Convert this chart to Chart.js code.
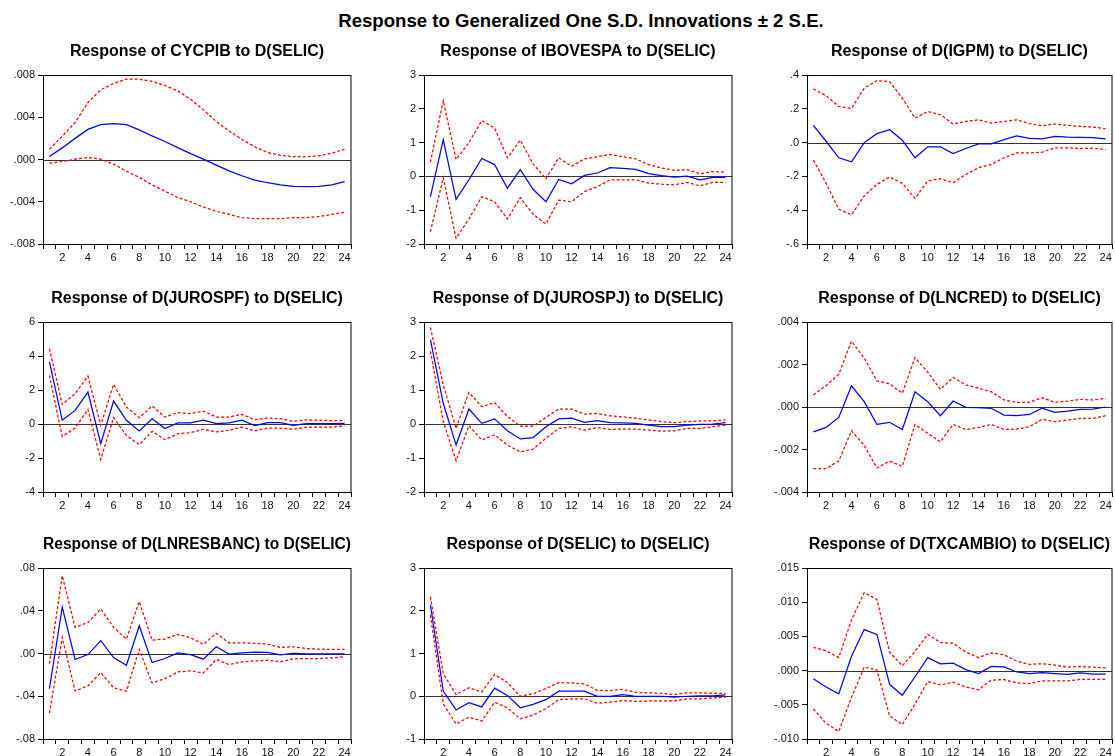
<!DOCTYPE html>
<html>
<head>
<meta charset="utf-8">
<script src="https://cdn.jsdelivr.net/npm/chart.js@4.4.1/dist/chart.umd.min.js"></script>
<style>
  html, body { margin:0; padding:0; background:#fff; overflow:hidden; }
  #wrap { position:relative; width:1115px; height:756px; background:#fff; }
  #maintitle { position:absolute; top:10px; left:581px; transform:translateX(-50%); white-space:nowrap;
    font-family:"Liberation Sans", Arial, sans-serif; font-weight:bold; font-size:18.6px; line-height:22px; color:#000; }
  canvas { position:absolute; }
</style>
</head>
<body>
<div id="wrap">
  <div id="maintitle">Response to Generalized One S.D. Innovations ± 2 S.E.</div>
</div>
<script>
// ---------- categories ----------
const steps = ['1','2','3','4','5','6','7','8','9','10','11','12','13','14','15','16','17','18','19','20','21','22','23','24'];

// ---------- CYCPIB ----------
const cycpibResp = [0.00028,0.0011,0.0020,0.00285,0.0033,0.0034,0.0033,0.0028,0.00223,0.0017,0.00113,0.00056,0.00003,-0.00053,-0.00107,-0.00154,-0.00195,-0.0022,-0.0024,-0.00254,-0.00257,-0.00254,-0.0024,-0.0021];
const cycpibHi   = [0.00097,0.0022,0.0035,0.0054,0.0066,0.0072,0.0076,0.0076,0.0074,0.0070,0.0065,0.0057,0.0047,0.0036,0.0027,0.0019,0.0012,0.00066,0.0004,0.00028,0.00025,0.00035,0.0006,0.00097];
const cycpibLo   = [-0.00035,-0.0002,0.00003,0.0002,0.00003,-0.00044,-0.0011,-0.0017,-0.0024,-0.0030,-0.0036,-0.0040,-0.0045,-0.0049,-0.0052,-0.0055,-0.0056,-0.0056,-0.0056,-0.0055,-0.0055,-0.0054,-0.0052,-0.0050];
const cycpibTicks = [-0.008,-0.004,0,0.004,0.008];

// ---------- IBOVESPA ----------
const ibovResp = [-0.6,1.09,-0.68,-0.1,0.53,0.35,-0.35,0.2,-0.38,-0.75,-0.09,-0.22,0.03,0.1,0.26,0.24,0.21,0.08,0.02,-0.02,0.01,-0.1,-0.03,-0.03];
const ibovHi   = [0.42,2.24,0.5,1.0,1.65,1.43,0.55,1.07,0.37,-0.07,0.55,0.3,0.52,0.58,0.65,0.58,0.52,0.35,0.25,0.18,0.2,0.08,0.14,0.13];
const ibovLo   = [-1.64,-0.04,-1.83,-1.26,-0.6,-0.75,-1.26,-0.63,-1.12,-1.41,-0.7,-0.75,-0.45,-0.31,-0.1,-0.1,-0.1,-0.2,-0.23,-0.25,-0.18,-0.28,-0.18,-0.18];
const ibovTicks = [-2,-1,0,1,2,3];

// ---------- D(IGPM) ----------
const igpmResp = [0.102,0.008,-0.09,-0.114,0,0.053,0.076,0.014,-0.09,-0.025,-0.025,-0.065,-0.035,-0.008,-0.008,0.018,0.04,0.025,0.022,0.037,0.033,0.031,0.03,0.022];
const igpmHi   = [0.318,0.277,0.214,0.202,0.322,0.367,0.361,0.263,0.145,0.184,0.165,0.11,0.125,0.135,0.116,0.125,0.135,0.112,0.1,0.11,0.102,0.096,0.092,0.082];
const igpmLo   = [-0.104,-0.24,-0.394,-0.427,-0.316,-0.247,-0.204,-0.241,-0.33,-0.227,-0.214,-0.237,-0.188,-0.149,-0.129,-0.09,-0.061,-0.061,-0.057,-0.031,-0.031,-0.035,-0.033,-0.041];
const igpmTicks = [-0.6,-0.4,-0.2,0,0.2,0.4];

// ---------- D(JUROSPF) ----------
const jpfResp = [3.65,0.22,0.8,1.88,-1.16,1.35,0.22,-0.41,0.31,-0.27,0.06,0.06,0.22,0.02,0.06,0.22,-0.1,0.08,0.08,-0.08,0.02,0.02,0.02,0.04];
const jpfHi   = [4.43,1.16,1.78,2.82,-0.08,2.33,1.0,0.37,1.06,0.41,0.67,0.61,0.76,0.41,0.41,0.57,0.25,0.35,0.31,0.16,0.24,0.22,0.2,0.2];
const jpfLo   = [2.86,-0.73,-0.24,0.86,-2.08,0.37,-0.67,-1.22,-0.43,-0.92,-0.57,-0.51,-0.31,-0.47,-0.37,-0.18,-0.41,-0.24,-0.24,-0.31,-0.2,-0.18,-0.18,-0.12];
const jpfTicks = [-4,-2,0,2,4,6];

// ---------- D(JUROSPJ) ----------
const jpjResp = [2.48,0.61,-0.62,0.44,0.02,0.15,-0.2,-0.44,-0.4,-0.08,0.15,0.17,0.05,0.1,0.04,0.03,0.02,-0.03,-0.08,-0.08,-0.03,-0.01,0,0.04];
const jpjHi   = [2.84,1.15,-0.13,0.93,0.51,0.63,0.22,-0.06,-0.06,0.19,0.44,0.44,0.29,0.31,0.24,0.21,0.17,0.12,0.07,0.04,0.07,0.09,0.09,0.12];
const jpjLo   = [2.14,0.07,-1.08,-0.05,-0.47,-0.32,-0.62,-0.82,-0.74,-0.42,-0.13,-0.08,-0.18,-0.11,-0.16,-0.15,-0.15,-0.18,-0.21,-0.2,-0.13,-0.13,-0.08,-0.03];
const jpjTicks = [-2,-1,0,1,2,3];

// ---------- D(LNCRED) ----------
const lncredResp = [-0.00117,-0.00096,-0.00049,0.001,0.00025,-0.00082,-0.00072,-0.00106,0.00072,0.00025,-0.00041,0.00028,-0.00002,-0.00003,-0.00006,-0.00038,-0.00041,-0.00035,-0.00006,-0.00025,-0.00019,-0.00011,-0.0001,0];
const lncredHi   = [0.00057,0.001,0.00154,0.0031,0.0023,0.00123,0.00109,0.00065,0.00233,0.00164,0.00083,0.00139,0.00104,0.00088,0.00072,0.00033,0.00022,0.00022,0.00044,0.00022,0.00028,0.00036,0.00033,0.00041];
const lncredLo   = [-0.0029,-0.0029,-0.00254,-0.00112,-0.0018,-0.00287,-0.00255,-0.00279,-0.00082,-0.00124,-0.00164,-0.00082,-0.00106,-0.00096,-0.00082,-0.00106,-0.00104,-0.00093,-0.00058,-0.00069,-0.00061,-0.00054,-0.00054,-0.00041];
const lncredTicks = [-0.004,-0.002,0,0.002,0.004];

// ---------- D(LNRESBANC) ----------
const resbResp = [-0.033,0.0433,-0.0056,-0.001,0.012,-0.0038,-0.011,0.026,-0.0085,-0.0047,0.0006,-0.001,-0.0053,0.0063,-0.0006,0.0006,0.0013,0.001,-0.0013,0,-0.0003,-0.0003,-0.0003,-0.0003];
const resbHi   = [-0.0094,0.0728,0.0245,0.029,0.0417,0.0245,0.0135,0.0486,0.0125,0.0135,0.0179,0.0147,0.0085,0.0188,0.01,0.01,0.0094,0.0088,0.0056,0.0063,0.0047,0.0041,0.0038,0.0038];
const resbLo   = [-0.0558,0.015,-0.0351,-0.0304,-0.0179,-0.032,-0.0354,0.0038,-0.0276,-0.0235,-0.0173,-0.0163,-0.0182,-0.0056,-0.0104,-0.0078,-0.0069,-0.0063,-0.0078,-0.005,-0.0047,-0.0047,-0.0041,-0.0031];
const resbTicks = [-0.08,-0.04,0,0.04,0.08];

// ---------- D(SELIC) ----------
const selicResp = [2.14,0.12,-0.32,-0.15,-0.25,0.19,0.02,-0.27,-0.19,-0.08,0.12,0.12,0.12,0,0,0.04,0,0,0,-0.02,0,0.01,0.01,0.03];
const selicHi   = [2.33,0.53,0.04,0.2,0.1,0.51,0.32,0,0.06,0.18,0.32,0.31,0.29,0.14,0.13,0.16,0.09,0.08,0.07,0.04,0.08,0.08,0.07,0.07];
const selicLo   = [1.9,-0.18,-0.65,-0.49,-0.58,-0.14,-0.27,-0.53,-0.44,-0.29,-0.08,-0.06,-0.06,-0.16,-0.14,-0.1,-0.12,-0.11,-0.11,-0.11,-0.06,-0.06,-0.04,-0.02];
const selicTicks = [-1,0,1,2,3];

// ---------- D(TXCAMBIO) ----------
const txResp = [-0.0012,-0.0024,-0.0034,0.0021,0.006,0.0053,-0.002,-0.0036,-0.0009,0.0019,0.001,0.0011,0.00015,-0.00044,0.0006,0.00054,-0.0002,-0.00044,-0.0003,-0.00044,-0.00054,-0.00034,-0.0005,-0.0005];
const txHi   = [0.0034,0.0029,0.0019,0.0074,0.0114,0.0104,0.0027,0.0007,0.0028,0.0053,0.0041,0.004,0.0027,0.0019,0.0026,0.0023,0.0014,0.0009,0.001,0.0008,0.0005,0.0006,0.0005,0.0004];
const txLo   = [-0.0056,-0.0077,-0.0089,-0.0039,0.0005,0.0001,-0.0066,-0.0079,-0.0049,-0.0016,-0.0021,-0.0017,-0.0024,-0.0028,-0.0014,-0.0013,-0.0018,-0.0019,-0.0015,-0.0015,-0.0015,-0.0013,-0.0013,-0.0013];
const txTicks = [-0.010,-0.005,0,0.005,0.010,0.015];

// ---------- panel list ----------
const panels = [
  {title:'Response of CYCPIB to D(SELIC)',       resp:cycpibResp, hi:cycpibHi, lo:cycpibLo, ticks:cycpibTicks, dec:3},
  {title:'Response of IBOVESPA to D(SELIC)',     resp:ibovResp,   hi:ibovHi,   lo:ibovLo,   ticks:ibovTicks,   dec:0},
  {title:'Response of D(IGPM) to D(SELIC)',      resp:igpmResp,   hi:igpmHi,   lo:igpmLo,   ticks:igpmTicks,   dec:1},
  {title:'Response of D(JUROSPF) to D(SELIC)',   resp:jpfResp,    hi:jpfHi,    lo:jpfLo,    ticks:jpfTicks,    dec:0},
  {title:'Response of D(JUROSPJ) to D(SELIC)',   resp:jpjResp,    hi:jpjHi,    lo:jpjLo,    ticks:jpjTicks,    dec:0},
  {title:'Response of D(LNCRED) to D(SELIC)',    resp:lncredResp, hi:lncredHi, lo:lncredLo, ticks:lncredTicks, dec:3},
  {title:'Response of D(LNRESBANC) to D(SELIC)', resp:resbResp,   hi:resbHi,   lo:resbLo,   ticks:resbTicks,   dec:2},
  {title:'Response of D(SELIC) to D(SELIC)',     resp:selicResp,  hi:selicHi,  lo:selicLo,  ticks:selicTicks,  dec:0},
  {title:'Response of D(TXCAMBIO) to D(SELIC)',  resp:txResp,     hi:txHi,     lo:txLo,     ticks:txTicks,     dec:3}
];

// ---------- layout geometry ----------
const COLS = [{cl:0, pl:43, pr:351}, {cl:374, pl:424, pr:732}, {cl:757, pl:807, pr:1112}];
const ROWS = [{pt:75, pb:244}, {pt:322, pb:492}, {pt:568, pb:739}];
const TITLE_H = 35, XAX_H = 22, PAD_R = 3;
const FONT = '"Liberation Sans", Arial, sans-serif';

function fmt(v, dec) {
  if (Math.abs(v) < 1e-12) v = 0;
  if (dec === 0) return String(Math.round(v));
  let s = Math.abs(v).toFixed(dec).replace(/^0/, '');
  return (v < 0 ? '-' : '') + s;
}

const framePlugin = {
  id: 'frame',
  beforeDatasetsDraw(chart) {
    const {ctx, chartArea:a, scales:{y}} = chart;
    const yz = Math.round(y.getPixelForValue(0)) + 0.5;
    ctx.save();
    ctx.strokeStyle = '#333';
    ctx.lineWidth = 1.2;
    ctx.beginPath(); ctx.moveTo(a.left, yz); ctx.lineTo(a.right, yz); ctx.stroke();
    ctx.restore();
  },
  afterDatasetsDraw(chart) {
    const {ctx, chartArea:a} = chart;
    ctx.save();
    ctx.strokeStyle = '#000';
    ctx.lineWidth = 1;
    ctx.strokeRect(Math.round(a.left)+0.5, Math.round(a.top)+0.5, Math.round(a.right-a.left)-1+0.5, Math.round(a.bottom-a.top));
    ctx.restore();
  }
};

const wrap = document.getElementById('wrap');
panels.forEach((p, i) => {
  const c = COLS[i % 3], r = ROWS[Math.floor(i / 3)];
  const w = c.pr - c.cl + PAD_R;
  const h = TITLE_H + (r.pb - r.pt) + XAX_H;
  const cv = document.createElement('canvas');
  cv.width = w; cv.height = h;
  cv.style.left = c.cl + 'px'; cv.style.top = (r.pt - TITLE_H) + 'px';
  cv.style.width = w + 'px'; cv.style.height = h + 'px';
  wrap.appendChild(cv);
  const yW = c.pl - c.cl;
  const red = {borderColor:'#FF0000', borderWidth:1.25, borderDash:[3,2], pointRadius:0, tension:0, fill:false};
  new Chart(cv, {
    type: 'line',
    data: {
      labels: steps,
      datasets: [
        Object.assign({label:'+2 S.E.', data:p.hi}, red),
        Object.assign({label:'-2 S.E.', data:p.lo}, red),
        {label:'Response', data:p.resp, borderColor:'#0000FF', borderWidth:1.25, pointRadius:0, tension:0, fill:false}
      ]
    },
    options: {
      responsive: false, animation: false, devicePixelRatio: 1,
      layout: {padding: {left:0, right:PAD_R, top:0, bottom:0}},
      plugins: {
        legend: {display:false}, tooltip: {enabled:false},
        title: {display:true, text:p.title, fullSize:false, color:'#000',
                font:{family:FONT, size:16, weight:'bold'}, padding:{top:2.4, bottom:13.4}}
      },
      scales: {
        x: {
          type:'category', offset:true,
          grid:{offset:true, drawOnChartArea:false, tickLength:5, tickColor:'#000', color:'#000'},
          border:{color:'#000', width:1},
          ticks:{autoSkip:false, maxRotation:0, minRotation:0, padding:2, color:'#111',
                 font:{family:FONT, size:11},
                 callback:(v, idx) => ((idx + 1) % 2 === 0 ? steps[idx] : '')},
          afterFit: s => { s.height = XAX_H; }
        },
        y: {
          type:'linear', min:p.ticks[0], max:p.ticks[p.ticks.length-1],
          afterBuildTicks: s => { s.ticks = p.ticks.map(v => ({value:v})); },
          grid:{drawOnChartArea:false, tickLength:5, tickColor:'#000', color:'#000'},
          border:{color:'#000', width:1},
          ticks:{padding:3, color:'#111', font:{family:FONT, size:11}, callback: v => fmt(v, p.dec)},
          afterFit: s => { s.width = yW; }
        }
      }
    },
    plugins: [framePlugin]
  });
});
</script>
</body>
</html>
